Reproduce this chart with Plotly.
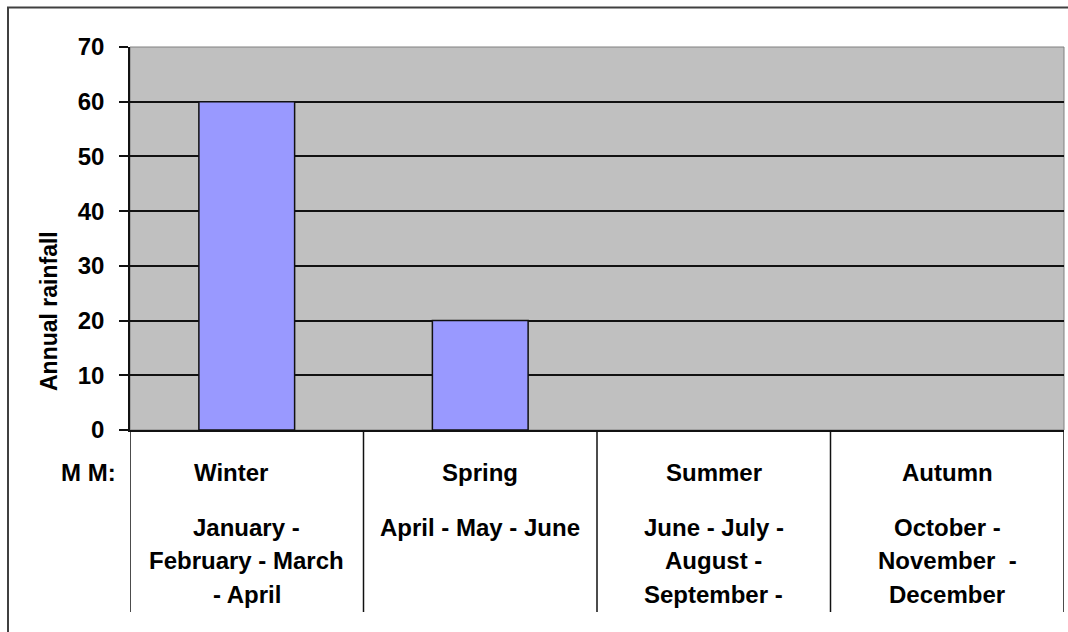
import plotly.graph_objects as go

seasons = ["Winter", "Spring", "Summer", "Autumn"]
months = [
    ["January -", "February - March", "- April"],
    ["April - May - June"],
    ["June - July -", "August -", "September -"],
    ["October -", "November  -", "December"],
]
rainfall = [60, 20, None, None]
y_ticks = [0, 10, 20, 30, 40, 50, 60, 70]
axis_title = "Annual rainfall"
unit_label = "M M:"

W, H = 1068, 632
PL, PR, PT, PB = 130, 1064, 47, 430   # plot area in page pixels
L, T = PL, PT
R = W - PR
B = H - PB
pw, ph = PR - PL, PB - PT

def px_x(x):
    return (x - PL) / pw

def px_y(y):
    return (PB - y) / ph

FONT = "Liberation Sans, Arial, sans-serif"
FS = 24
pos = list(range(len(seasons)))

fig = go.Figure()
fig.add_trace(go.Bar(
    x=pos, y=rainfall, width=0.41,
    marker=dict(color="#9999FF", line=dict(color="#111111", width=1.5)),
    hoverinfo="skip",
))

shapes = []
shapes.append(dict(type="rect", xref="paper", yref="paper", x0=0, x1=1, y0=0, y1=1,
                   line=dict(color="#808080", width=1), layer="below"))
shapes.append(dict(type="rect", xref="paper", yref="paper",
                   x0=px_x(8), x1=px_x(1090), y0=px_y(660), y1=px_y(7.5),
                   line=dict(color="#404040", width=2)))
for i in range(len(seasons) + 1):
    shapes.append(dict(type="line", xref="x", yref="paper", x0=i - 0.5, x1=i - 0.5,
                       y0=0, y1=px_y(612), line=dict(color="#111111", width=1.5)))

font = dict(family=FONT, size=FS, color="black", weight="bold")
name_shift = {"Winter": -16}
annotations = []
for i, (s, lines) in enumerate(zip(seasons, months)):
    annotations.append(dict(x=i, xref="x", y=px_y(472), yref="paper", text=s,
                            showarrow=False, xanchor="center", yanchor="middle",
                            xshift=name_shift.get(s, 0), font=font))
    for k, line in enumerate(lines):
        annotations.append(dict(x=i, xref="x", y=px_y(527 + 33.5 * k), yref="paper", text=line,
                                showarrow=False, xanchor="center", yanchor="middle", font=font))
annotations.append(dict(x=px_x(118), xref="paper", y=px_y(472), yref="paper", text=unit_label,
                        showarrow=False, xanchor="right", yanchor="middle", font=font))
annotations.append(dict(x=px_x(49), xref="paper", y=px_y(311), yref="paper", text=axis_title,
                        showarrow=False, textangle=-90, xanchor="center", yanchor="middle",
                        font=dict(family=FONT, size=23, color="black", weight="bold")))

fig.update_layout(
    width=W, height=H,
    margin=dict(l=L, r=R, t=T, b=B, pad=0),
    paper_bgcolor="white", plot_bgcolor="#C0C0C0",
    showlegend=False,
    shapes=shapes, annotations=annotations,
    xaxis=dict(range=[-0.5, len(seasons) - 0.5], showticklabels=False, showgrid=False,
               zeroline=False, showline=True, linecolor="#111111", linewidth=1.5, ticks=""),
    yaxis=dict(range=[0, 70], tickvals=y_ticks, showgrid=True, gridcolor="#111111", gridwidth=1.5,
               zeroline=False, showline=True, linecolor="#111111", linewidth=1.5,
               ticks="outside", ticklen=9, tickcolor="#111111", tickwidth=1.5,
               ticklabelstandoff=10,
               tickfont=dict(family=FONT, size=FS, color="black", weight="bold")),
)

fig.write_html("out.html", default_width=f"{W}px", default_height=f"{H}px",
               config={"displayModeBar": False},
               post_script="document.body.style.margin='0';document.body.style.overflow='hidden';")
